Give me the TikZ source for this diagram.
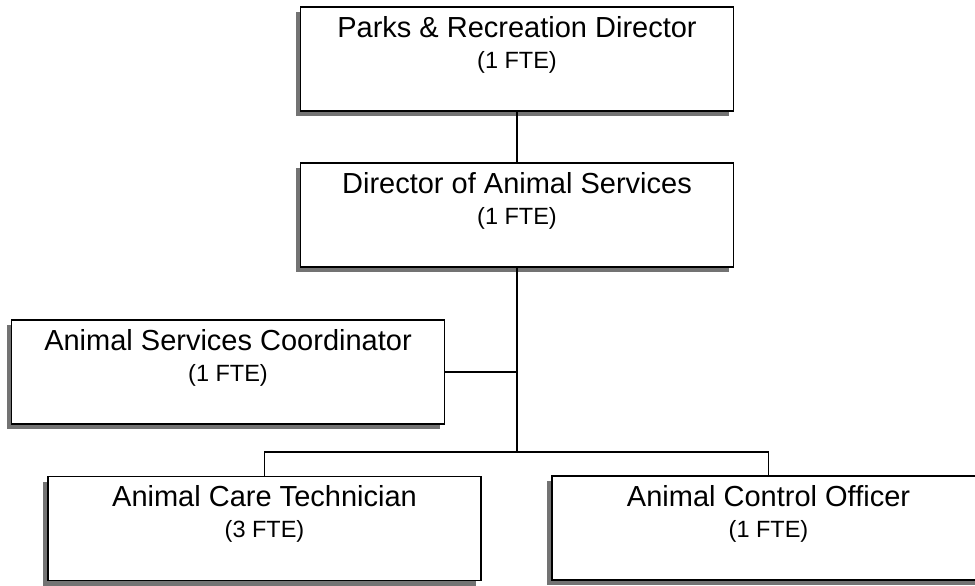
\documentclass[tikz,border=0pt]{standalone}
\usepackage{fontspec}
\setmainfont{Liberation Sans}
\usetikzlibrary{shadows}
\tikzset{
  orgbox/.style={draw=black, line width=1.9pt, fill=white, rectangle,
    minimum width=433pt, minimum height=104pt, inner sep=0pt,
    drop shadow={shadow xshift=-5pt, shadow yshift=-5pt, fill=black!55, opacity=1}},
  titletext/.style={anchor=base, inner sep=0pt, font=\fontsize{29}{34}\selectfont},
  subtext/.style={anchor=base, inner sep=0pt, font=\fontsize{23.5}{28}\selectfont},
  link/.style={draw=black, line width=1.9pt}
}
\begin{document}
\begin{tikzpicture}[x=1pt, y=-1pt]
  \useasboundingbox (0,0) rectangle (975,586);
  \clip (0,0) rectangle (975,586);

  % positions
  \node[orgbox] (dir)   at (517,59)    {};
  \node[orgbox] (anim)  at (517,215)   {};
  \node[orgbox] (coord) at (228,372)   {};
  \node[orgbox] (tech)  at (264.5,528.5) {};
  \node[orgbox] (ctrl)  at (768.5,528) {};

  % titles
  \node[titletext] (dirT)   at ([yshift=-31pt]dir.north)   {Parks \& Recreation Director};
  \node[subtext]   (dirS)   at ([yshift=-62pt]dir.north)   {(1 FTE)};
  \node[titletext] (animT)  at ([yshift=-31pt]anim.north)  {Director of Animal Services};
  \node[subtext]   (animS)  at ([yshift=-62pt]anim.north)  {(1 FTE)};
  \node[titletext] (coordT) at ([yshift=-31pt]coord.north) {Animal Services Coordinator};
  \node[subtext]   (coordS) at ([yshift=-62pt]coord.north) {(1 FTE)};
  \node[titletext] (techT)  at ([yshift=-31pt]tech.north)  {Animal Care Technician};
  \node[subtext]   (techS)  at ([yshift=-62pt]tech.north)  {(3 FTE)};
  \node[titletext] (ctrlT)  at ([yshift=-31pt]ctrl.north)  {Animal Control Officer};
  \node[subtext]   (ctrlS)  at ([yshift=-62pt]ctrl.north)  {(1 FTE)};

  % reporting lines
  \coordinate (split) at (517,452);
  \draw[link] (dir.south) -- (anim.north);
  \draw[link] (anim.south) -- (split);
  \draw[link] (coord.east) -- (coord.east -| split);
  \draw[link] (tech.north) -- (tech.north |- split) -- (ctrl.north |- split) -- (ctrl.north);
\end{tikzpicture}
\end{document}
